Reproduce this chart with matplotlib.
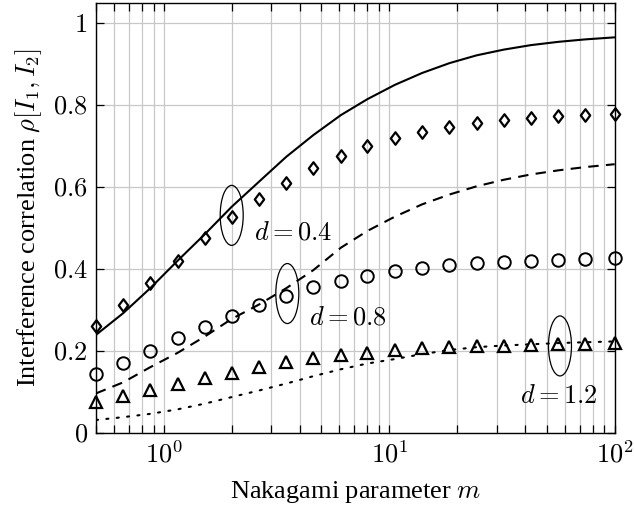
import numpy as np
import matplotlib
matplotlib.use('Agg')
import matplotlib.pyplot as plt
from matplotlib.patches import Ellipse
from matplotlib.path import Path
from matplotlib.transforms import ScaledTranslation
from matplotlib.ticker import FixedLocator, FixedFormatter, NullFormatter

plt.rcParams['font.family'] = ['Liberation Serif', 'DejaVu Serif']
plt.rcParams['mathtext.fontset'] = 'cm'
plt.rcParams['font.size'] = 19

# Nakagami m values (simulation points)
m = [0.5, 0.66, 0.87, 1.15, 1.52, 2.0, 2.64, 3.49, 4.6, 6.1,
     8.0, 10.6, 14.0, 18.5, 24.4, 32.2, 42.5, 56.2, 74.0, 100.0]

# simulation
sim_d04 = [0.261, 0.312, 0.366, 0.420, 0.475, 0.526, 0.571, 0.610, 0.646, 0.676,
           0.700, 0.721, 0.734, 0.747, 0.756, 0.763, 0.769, 0.773, 0.776, 0.778]
sim_d08 = [0.143, 0.171, 0.200, 0.231, 0.259, 0.286, 0.312, 0.335, 0.355, 0.371,
           0.383, 0.394, 0.402, 0.410, 0.414, 0.418, 0.420, 0.423, 0.424, 0.426]
sim_d12 = [0.076, 0.089, 0.104, 0.119, 0.134, 0.147, 0.161, 0.173, 0.182, 0.190,
           0.195, 0.202, 0.206, 0.209, 0.212, 0.213, 0.215, 0.216, 0.217, 0.218]

# analytical approximation
ana_d04 = [0.239, 0.292, 0.353, 0.420, 0.485, 0.552, 0.613, 0.674, 0.727, 0.776,
           0.815, 0.850, 0.879, 0.903, 0.922, 0.936, 0.947, 0.955, 0.961, 0.966]
ana_d08 = [0.096, 0.123, 0.160, 0.195, 0.235, 0.278, 0.313, 0.353, 0.397, 0.452,
           0.493, 0.528, 0.558, 0.582, 0.602, 0.618, 0.631, 0.641, 0.649, 0.656]
ana_d12 = [0.031, 0.038, 0.046, 0.057, 0.071, 0.087, 0.103, 0.120, 0.138, 0.155,
           0.169, 0.180, 0.192, 0.202, 0.209, 0.213, 0.216, 0.219, 0.221, 0.223]

diamond = Path([(0, 1), (0.75, 0), (0, -1), (-0.75, 0), (0, 1)],
               [Path.MOVETO, Path.LINETO, Path.LINETO, Path.LINETO, Path.CLOSEPOLY])

fig = plt.figure(figsize=(6.34, 5.12), dpi=100)
ax = fig.add_axes([0.1514, 0.1549, 0.8181, 0.8393])

ax.plot(m, ana_d04, '-', color='k', lw=1.5)
ax.plot(m, ana_d08, color='k', lw=1.5, dashes=(5, 3.5))
ax.plot(m, ana_d12, color='k', lw=1.5, dashes=(1, 4), dash_capstyle='round')

ax.plot(m, sim_d04, ls='none', marker=diamond, ms=9, mfc='none', mec='k', mew=1.6, clip_on=False)
ax.plot(m, sim_d08, ls='none', marker='o', ms=9, mfc='none', mec='k', mew=1.4, clip_on=False)
ax.plot(m, sim_d12, ls='none', marker='^', ms=8, mfc='none', mec='k', mew=1.6, clip_on=False)

ax.set_xscale('log')
ax.set_xlim(0.5, 100)
ax.set_ylim(0, 1.05)

ax.xaxis.set_major_locator(FixedLocator([1, 10, 100]))
ax.xaxis.set_major_formatter(FixedFormatter([r'$10^{0}$', r'$10^{1}$', r'$10^{2}$']))
minors = [0.5, 0.6, 0.7, 0.8, 0.9] + [k for k in range(2, 10)] + [10 * k for k in range(2, 10)]
ax.xaxis.set_minor_locator(FixedLocator(minors))
ax.xaxis.set_minor_formatter(NullFormatter())

yt = [0, 0.2, 0.4, 0.6, 0.8, 1]
ax.yaxis.set_major_locator(FixedLocator(yt))
ax.yaxis.set_major_formatter(FixedFormatter([r'$0$', r'$0.2$', r'$0.4$', r'$0.6$', r'$0.8$', r'$1$']))

ax.grid(True, which='major', color='#c8c8c8', lw=0.9)
ax.grid(True, which='minor', axis='x', color='#c8c8c8', lw=0.9)
ax.set_axisbelow(True)
ax.tick_params(which='both', direction='in', top=True, right=True, labelsize=19)
ax.tick_params(which='major', length=6, width=0.9, pad=6)
ax.tick_params(which='minor', length=6, width=0.9)
for s in ax.spines.values():
    s.set_linewidth(1.0)

ax.set_xlabel(r'Nakagami parameter $m$', fontsize=19, labelpad=8)
ax.set_ylabel(r'Interference correlation $\rho[I_1, I_2]$', fontsize=19, labelpad=6)

# ellipses marking each curve group, sized in inches around a data point
for (xe, ye) in [(2.0, 0.531), (3.53, 0.340), (57.2, 0.212)]:
    tr = fig.dpi_scale_trans + ScaledTranslation(xe, ye, ax.transData)
    ax.add_patch(Ellipse((0, 0), 0.23, 0.60, transform=tr, fill=False, ec='k', lw=0.9))

ax.text(3.74, 0.487, r'$d = 0.4$', fontsize=19, ha='center', va='center')
ax.text(6.55, 0.280, r'$d = 0.8$', fontsize=19, ha='center', va='center')
ax.text(56.8, 0.088, r'$d = 1.2$', fontsize=19, ha='center', va='center')

fig.savefig('out.png', dpi=100)
